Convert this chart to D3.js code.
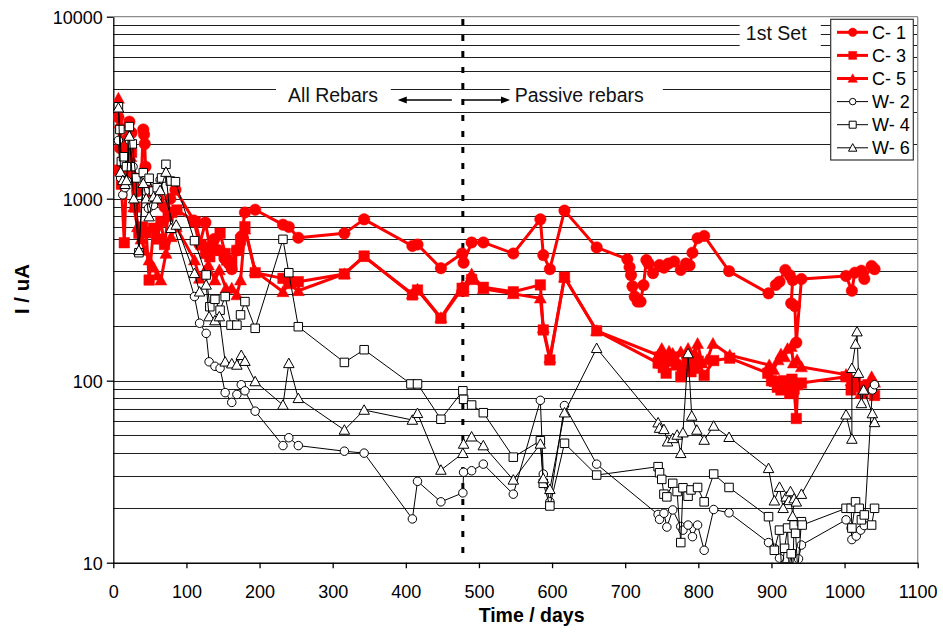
<!DOCTYPE html>
<html>
<head>
<meta charset="utf-8">
<script src="https://cdn.jsdelivr.net/npm/d3@7"></script>
<style>
body { margin: 0; background: #fff; }
text { font-family: "Liberation Sans", Arial, sans-serif; }
</style>
</head>
<body>
<div id="chart"></div>
<script>
// Data: [day, current uA]
var c1 = [[7,2800],[9,1900],[12,1500],[16,1700],[19,2100],[22,2650],[25,2300],[29,1300],[33,1100],[38,1200],[41,2400],[42,2250],[43,2000],[44,1500],[48,1100],[55,950],[62,1000],[70,900],[78,1000],[85,1120],[110,760],[118,560],[126,740],[132,545],[138,600],[145,520],[152,470],[158,440],[162,410],[169,520],[175,620],[180,840],[194,870],[232,720],[240,700],[253,610],[316,645],[343,770],[409,550],[416,560],[448,415],[477,500],[479,445],[490,575],[506,575],[547,500],[584,770],[588,490],[597,410],[617,860],[661,540],[703,465],[706,420],[708,380],[710,330],[713,290],[717,272],[721,272],[725,335],[729,460],[732,440],[738,390],[747,432],[753,418],[759,440],[767,452],[776,406],[783,440],[788,430],[792,505],[799,606],[808,624],[842,400],[896,302],[906,336],[911,350],[919,406],[925,380],[929,357],[927,266],[932,257],[934,162],[941,362],[1002,376],[1010,312],[1014,392],[1023,402],[1027,362],[1037,427],[1041,410]];
var c3 = [[8,1435],[11,1200],[15,573],[18,1400],[21,2000],[25,1800],[30,900],[35,645],[40,700],[45,650],[49,357],[55,688],[60,600],[65,750],[70,560],[75,800],[80,840],[87,867],[112,748],[120,560],[126,500],[132,480],[139,520],[146,645],[153,500],[155,460],[162,450],[169,520],[174,593],[180,702],[194,392],[232,365],[240,351],[253,350],[316,386],[343,484],[409,296],[416,315],[448,220],[477,322],[479,310],[490,360],[506,326],[547,308],[584,336],[588,190],[597,130],[617,370],[661,188],[745,125],[747,135],[749,125],[752,118],[756,110],[760,128],[765,135],[770,122],[776,105],[781,119],[786,125],[790,112],[795,117],[800,128],[808,107],[821,129],[843,133],[895,110],[900,100],[904,99],[908,92],[913,89],[917,100],[921,95],[925,85],[928,102],[931,90],[934,62],[936,95],[941,97],[1002,105],[1009,89],[1015,100],[1020,93],[1025,85],[1032,95],[1041,83]];
var c5 = [[7,3560],[9,2600],[12,2000],[16,1500],[20,2300],[24,1700],[28,900],[33,700],[38,600],[43,520],[49,460],[55,420],[60,380],[65,357],[72,500],[79,618],[86,700],[111,460],[118,365],[125,400],[130,432],[139,357],[145,406],[154,322],[162,322],[169,296],[174,357],[180,680],[194,400],[232,308],[240,340],[253,312],[316,386],[343,480],[409,300],[416,318],[448,222],[477,330],[478,326],[490,386],[506,320],[547,300],[584,284],[588,195],[597,133],[617,370],[661,188],[745,138],[750,150],[755,130],[760,145],[765,141],[770,130],[776,144],[781,125],[786,150],[790,135],[795,142],[799,160],[805,125],[812,130],[820,160],[843,138],[897,122],[903,115],[909,130],[913,140],[918,135],[922,150],[927,154],[930,125],[935,130],[941,119],[1002,108],[1009,100],[1016,95],[1022,85],[1030,90],[1037,105],[1041,98]];
var w2 = [[7,2090],[10,1300],[13,1050],[16,1150],[19,1250],[22,2090],[27,1500],[32,1300],[36,1295],[40,1240],[44,1100],[48,885],[55,920],[60,1000],[64,1270],[111,290],[118,207],[127,182],[131,127],[139,120],[146,117],[153,86],[162,76],[169,84],[175,95],[180,88],[194,68],[232,44],[240,48.6],[253,44],[316,41],[343,40],[409,17.4],[416,28],[448,21.6],[478,24.2],[479,31.4],[490,32],[506,34.8],[547,23.8],[584,78],[588,30.7],[597,21.6],[617,73],[661,34.8],[745,18.4],[747,17.3],[753,18.7],[757,15.7],[765,19.5],[776,15.8],[779,15.1],[786,16.1],[792,13.9],[799,16.1],[808,11.7],[821,19.6],[842,18.8],[896,12.9],[904,12],[911,10.6],[915,8.5],[918,9.5],[922,8],[926,9],[929,7.5],[933,8.5],[937,10.5],[941,12.5],[1002,17.2],[1009,15.5],[1010,13.4],[1016,14],[1022,15.1],[1027,16],[1038,89],[1041,95]];
var w4 = [[7,3200],[9,2400],[11,1600],[14,1700],[18,1500],[22,2490],[26,2000],[31,1300],[35,505],[41,1390],[45,1250],[49,1295],[55,1100],[60,1150],[66,1300],[72,1545],[78,1250],[85,1240],[111,588],[127,381],[132,255],[139,280],[146,244],[153,290],[161,202],[169,202],[174,230],[180,272],[194,194],[232,598],[240,392],[253,198],[316,126],[343,148],[407,96],[416,96],[448,61.4],[478,88],[479,79],[490,73.5],[506,66.7],[547,38],[584,46.8],[588,27.3],[597,20.5],[617,45.3],[661,30.3],[745,33.7],[747,31.2],[750,28.7],[753,23.8],[757,23],[765,27.3],[771,24.6],[776,12.9],[779,25.8],[786,23.2],[790,25.1],[799,25.9],[808,21.6],[821,30.7],[842,25.9],[896,17.9],[904,11.7],[911,15.1],[914,9],[918,12],[922,15.5],[924,9.5],[927,11.2],[929,8.5],[931,16.1],[933,14.5],[936,9],[941,16.8],[942,16.1],[1002,19.9],[1009,19.9],[1010,15.5],[1015,21.6],[1020,19.9],[1023,17.2],[1027,18.3],[1037,16.1],[1041,19.9]];
var w6 = [[7,3160],[10,1400],[13,1260],[16,1200],[18,1260],[22,2210],[28,1000],[35,520],[41,1215],[45,1000],[49,797],[55,1025],[60,1000],[64,1110],[72,1400],[79,688],[86,717],[111,389],[118,308],[127,336],[131,225],[139,214],[145,225],[153,127],[162,124],[169,122],[175,138],[180,128],[194,99],[232,73.5],[240,124.5],[253,80],[316,53.6],[343,69],[409,60.8],[416,66.2],[448,32.3],[478,39.9],[479,44.9],[490,49.2],[506,44],[547,28.5],[584,44.9],[588,29],[597,25.3],[617,66.7],[661,150.7],[745,58.8],[747,54.9],[753,54],[758,46.2],[765,48.2],[771,50.3],[776,39.9],[779,51.8],[786,141],[791,64],[798,53.6],[808,47.2],[821,56.4],[842,48.9],[896,33],[904,21.9],[911,26],[916,19.9],[920,23],[924,22],[926,24.6],[929,18],[931,22.5],[934,21.6],[941,23.8],[1002,65],[1010,47.8],[1010,117],[1015,159],[1017,186],[1019,110],[1023,75],[1026,89],[1038,66],[1041,59]];

var seriesNames = ["C- 1", "C- 3", "C- 5", "W- 2", "W- 4", "W- 6"];
var xTicks = d3.range(0, 1101, 100);
var yTicks = [10, 100, 1000, 10000];
var dividerDay = 478;

// Chart setup
var svgWidth = 943;
var svgHeight = 633;
var margin = { top: 16.7, right: 25.3, bottom: 70.3, left: 113.3 };
var width = svgWidth - margin.left - margin.right;
var height = svgHeight - margin.top - margin.bottom;

var svg = d3.select("#chart").append("svg")
  .attr("width", svgWidth)
  .attr("height", svgHeight);

var chartGroup = svg.append("g")
  .attr("transform", `translate(${margin.left}, ${margin.top})`);

var x = d3.scaleLinear().domain([0, 1100]).range([0, width]);
var y = d3.scaleLog().domain([10, 10000]).range([height, 0]);

// horizontal gridlines at every 1..9 x decade
var gridVals = [];
[10, 100, 1000].forEach(function(dec) {
  d3.range(1, 10).forEach(function(k) { gridVals.push(k * dec); });
});
chartGroup.selectAll(".grid")
  .data(gridVals)
  .enter()
  .append("line")
  .attr("x1", 0)
  .attr("x2", width)
  .attr("y1", d => Math.round(y(d) + margin.top) - margin.top + 0.5)
  .attr("y2", d => Math.round(y(d) + margin.top) - margin.top + 0.5)
  .attr("stroke", "#1e1e1e")
  .attr("stroke-width", 1);

// plot frame top/right
chartGroup.append("line").attr("x1", 0).attr("x2", width).attr("y1", 0).attr("y2", 0)
  .attr("stroke", "#8c8c8c").attr("stroke-width", 1.3);
chartGroup.append("line").attr("x1", width).attr("x2", width).attr("y1", 0).attr("y2", height)
  .attr("stroke", "#8c8c8c").attr("stroke-width", 1.3);

// annotation boxes hiding gridlines
function whiteBox(d0, d1, v0, v1) {
  chartGroup.append("rect")
    .attr("x", x(d0)).attr("width", x(d1) - x(d0))
    .attr("y", y(v0)).attr("height", y(v1) - y(v0))
    .attr("fill", "#fff");
}
whiteBox(222.5, 379.5, 4500, 3480);
whiteBox(542, 751.5, 4500, 3480);
whiteBox(856.5, 967.5, 9590, 6560);

chartGroup.append("text").attr("x", x(239)).attr("y", y(3410))
  .attr("font-size", "19.5px").attr("fill", "#111").text("All Rebars");
chartGroup.append("text").attr("x", x(549)).attr("y", y(3410))
  .attr("font-size", "19.5px").attr("fill", "#111").text("Passive rebars");
chartGroup.append("text").attr("x", x(865)).attr("y", y(7450))
  .attr("font-size", "19.5px").attr("fill", "#111").text("1st Set");

// arrows
function arrow(dFrom, dTo, v) {
  var x0 = x(dFrom), x1 = x(dTo), yy = y(v);
  var dir = x1 > x0 ? 1 : -1;
  chartGroup.append("line")
    .attr("x1", x0).attr("x2", x1 - dir * 6).attr("y1", yy).attr("y2", yy)
    .attr("stroke", "#000").attr("stroke-width", 1.4);
  chartGroup.append("path")
    .attr("d", `M${x1},${yy}L${x1 - dir * 9},${yy - 3.5}L${x1 - dir * 9},${yy + 3.5}Z`)
    .attr("fill", "#000");
}
arrow(463, 389, 3486);
arrow(477, 542.5, 3486);

// dashed divider
chartGroup.append("line")
  .attr("x1", x(dividerDay)).attr("x2", x(dividerDay))
  .attr("y1", 2.3).attr("y2", height - 4)
  .attr("stroke", "#000").attr("stroke-width", 3)
  .attr("stroke-dasharray", "6,10");

// Axis functions
var bottomAxis = d3.axisBottom(x).tickValues(xTicks).tickFormat(d3.format("d"))
  .tickSize(5.5).tickSizeOuter(0);
var leftAxis = d3.axisLeft(y).tickValues(yTicks).tickFormat(d3.format("d"))
  .tickSize(6.5).tickPadding(4).tickSizeOuter(0);

var xAxisG = chartGroup.append("g")
  .attr("transform", `translate(0, ${height})`)
  .call(bottomAxis);
xAxisG.selectAll("text").attr("y", 35.5).attr("dy", 0)
  .attr("font-size", "18px").attr("fill", "#000")
  .style("font-family", "'Liberation Sans', Arial, sans-serif");

var yAxisG = chartGroup.append("g").call(leftAxis);
yAxisG.selectAll("text").attr("font-size", "18px").attr("fill", "#000")
  .attr("dy", "0.36em")
  .style("font-family", "'Liberation Sans', Arial, sans-serif");
[xAxisG, yAxisG].forEach(function(g) {
  g.select(".domain").attr("stroke", "#000").attr("stroke-width", 1.3);
  g.selectAll(".tick line").attr("stroke", "#000").attr("stroke-width", 1.3);
});

// axis titles
chartGroup.append("text")
  .attr("x", x(572)).attr("y", 622.3 - margin.top)
  .attr("text-anchor", "middle").attr("font-weight", "bold")
  .attr("font-size", "19.5px").text("Time / days");
chartGroup.append("text")
  .attr("transform", `translate(${28.5 - margin.left}, ${289 - margin.top}) rotate(-90)`)
  .attr("text-anchor", "middle").attr("font-weight", "bold")
  .attr("font-size", "20.5px").text("I / uA");

// series
var styles = [
  { color: "#ff0000", lw: 3, shape: "circle", size: 11.5, fill: "#ff0000" },
  { color: "#ff0000", lw: 3, shape: "square", size: 10.5, fill: "#ff0000" },
  { color: "#ff0000", lw: 3, shape: "triangle", size: 11.5, fill: "#ff0000" },
  { color: "#000", lw: 1, shape: "circle", size: 8.5, fill: "#fff" },
  { color: "#000", lw: 1, shape: "square", size: 8.5, fill: "#fff" },
  { color: "#000", lw: 1, shape: "triangle", size: 10, fill: "#fff" }
];
var seriesData = [c1, c3, c5, w2, w4, w6];

function markerPath(shape, s) {
  var h = s / 2;
  if (shape === "circle") {
    return `M${-h},0a${h},${h} 0 1,0 ${s},0a${h},${h} 0 1,0 ${-s},0Z`;
  } else if (shape === "square") {
    return `M${-h},${-h}h${s}v${s}h${-s}Z`;
  }
  return `M0,${-h * 1.05}L${h * 1.05},${h * 0.85}L${-h * 1.05},${h * 0.85}Z`;
}

svg.append("defs").append("clipPath").attr("id", "plotClip")
  .append("rect").attr("x", 0).attr("y", -8).attr("width", width + 8).attr("height", height + 8);

var plotGroup = chartGroup.append("g").attr("clip-path", "url(#plotClip)");
var line = d3.line().x(d => x(d[0])).y(d => y(d[1]));

seriesData.forEach(function(data, i) {
  var st = styles[i];
  var g = plotGroup.append("g");
  g.append("path")
    .datum(data)
    .attr("d", line)
    .attr("fill", "none")
    .attr("stroke", st.color)
    .attr("stroke-width", st.lw)
    .attr("stroke-linejoin", "round");
  g.selectAll(".pt")
    .data(data)
    .enter()
    .append("path")
    .attr("transform", d => `translate(${x(d[0])}, ${y(d[1])})`)
    .attr("d", markerPath(st.shape, st.size))
    .attr("fill", st.fill)
    .attr("stroke", st.color)
    .attr("stroke-width", st.lw === 3 ? 0.5 : 1);
});

// legend
var legend = svg.append("g");
legend.append("rect")
  .attr("x", 830.7).attr("y", 19.3).attr("width", 82.6).attr("height", 140.7)
  .attr("fill", "#fff").attr("stroke", "#333").attr("stroke-width", 1.2);
var legendSizes = [8.5, 8, 9, 6.5, 7, 8];
seriesNames.forEach(function(name, i) {
  var st = styles[i];
  var cy = 32.3 + i * 23.1;
  var item = legend.append("g").attr("transform", `translate(0, ${cy})`);
  item.append("line").attr("x1", 837).attr("x2", 868).attr("y1", 0).attr("y2", 0)
    .attr("stroke", st.color).attr("stroke-width", st.lw);
  item.append("path").attr("transform", "translate(852.7, 0)")
    .attr("d", markerPath(st.shape, legendSizes[i]))
    .attr("fill", st.fill).attr("stroke", st.color).attr("stroke-width", st.lw === 3 ? 0.5 : 1);
  item.append("text").attr("x", 872).attr("y", 6.3)
    .attr("font-size", "18px").attr("fill", "#000").text(name);
});
</script>
</body>
</html>
